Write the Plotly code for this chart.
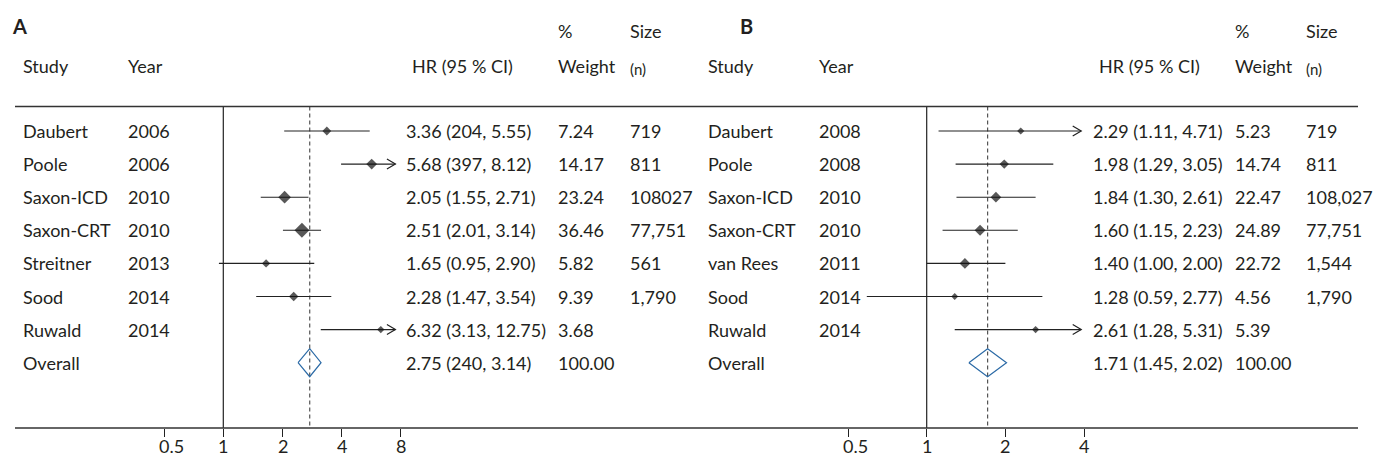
import math
import plotly.graph_objects as go

W, H = 1374, 458

# ---------------- Panel A ----------------
a_study = ["Daubert", "Poole", "Saxon-ICD", "Saxon-CRT", "Streitner", "Sood", "Ruwald"]
a_year = ["2006", "2006", "2010", "2010", "2013", "2014", "2014"]
a_hr = [3.36, 5.68, 2.05, 2.51, 1.65, 2.28, 6.32]
a_lo = [2.04, 3.97, 1.55, 2.01, 0.95, 1.47, 3.13]
a_hi = [5.55, 8.12, 2.71, 3.14, 2.90, 3.54, 12.75]
a_ci_text = ["3.36 (204, 5.55)", "5.68 (397, 8.12)", "2.05 (1.55, 2.71)",
             "2.51 (2.01, 3.14)", "1.65 (0.95, 2.90)", "2.28 (1.47, 3.54)",
             "6.32 (3.13, 12.75)"]
a_weight = [7.24, 14.17, 23.24, 36.46, 5.82, 9.39, 3.68]
a_n = ["719", "811", "108027", "77,751", "561", "1,790", ""]
a_overall = [2.75, 2.40, 3.14]
a_overall_text = "2.75 (240, 3.14)"
a_ticks = [0.5, 1, 2, 4, 8]

# ---------------- Panel B ----------------
b_study = ["Daubert", "Poole", "Saxon-ICD", "Saxon-CRT", "van Rees", "Sood", "Ruwald"]
b_year = ["2008", "2008", "2010", "2010", "2011", "2014", "2014"]
b_hr = [2.29, 1.98, 1.84, 1.60, 1.40, 1.28, 2.61]
b_lo = [1.11, 1.29, 1.30, 1.15, 1.00, 0.59, 1.28]
b_hi = [4.71, 3.05, 2.61, 2.23, 2.00, 2.77, 5.31]
b_ci_text = ["2.29 (1.11, 4.71)", "1.98 (1.29, 3.05)", "1.84 (1.30, 2.61)",
             "1.60 (1.15, 2.23)", "1.40 (1.00, 2.00)", "1.28 (0.59, 2.77)",
             "2.61 (1.28, 5.31)"]
b_weight = [5.23, 14.74, 22.47, 24.89, 22.72, 4.56, 5.39]
b_n = ["719", "811", "108,027", "77,751", "1,544", "1,790", ""]
b_overall = [1.71, 1.45, 2.02]
b_overall_text = "1.71 (1.45, 2.02)"
b_ticks = [0.5, 1, 2, 4]

FONT = "Lato"
FS = 18
TXT = "#231f20"
LINE = "#222222"
BLUE = "#2b6aa6"

# page geometry (pixels)
ROW0_PX, ROW_STEP = 131.0, 33.1
TOP_PX, AXIS_PX = 106.5, 428.0
LEFT_PX, RIGHT_PX = 15, 1358


def px(x):
    return x / W


def py(y):
    return 1 - y / H


def row_of(p):
    return (p - ROW0_PX) / ROW_STEP


panels = [
    dict(study=a_study, year=a_year, hr=a_hr, lo=a_lo, hi=a_hi, ci=a_ci_text,
         w=a_weight, n=a_n, ov=a_overall, ov_text=a_overall_text, ticks=a_ticks,
         xa="x", one_px=223.3, px_dec=196.7, dom=(15, 680), clip=7.5,
         msize=(3.0, 1.4), cols=dict(label=10, study=21, year=126, ci=404, w=556, n=628),
         letter="A"),
    dict(study=b_study, year=b_year, hr=b_hr, lo=b_lo, hi=b_hi, ci=b_ci_text,
         w=b_weight, n=b_n, ov=b_overall, ov_text=b_overall_text, ticks=b_ticks,
         xa="x2", one_px=926.7, px_dec=261.4, dom=(690, 1358), clip=3.9,
         msize=(3.0, 1.1), cols=dict(label=738, study=706, year=817, ci=1091, w=1233, n=1304),
         letter="B"),
]

fig = go.Figure()
annotations = []


def note(text, x, y, yref="paper", size=FS, bold=False):
    annotations.append(dict(
        text=f"<b>{text}</b>" if bold else text, x=px(x), y=y, xref="paper", yref=yref,
        xanchor="left", yanchor="middle", showarrow=False,
        font=dict(family=FONT, size=size, color=TXT)))


for p in panels:
    xa = p["xa"]
    ya = "y"
    rows = list(range(len(p["study"])))
    ov_row = len(p["study"])
    y_top, y_bot = row_of(TOP_PX), row_of(AXIS_PX)

    # reference line at HR = 1
    fig.add_trace(go.Scatter(x=[1, 1], y=[y_top, y_bot], mode="lines",
                             line=dict(color=LINE, width=1.2), xaxis=xa, yaxis=ya,
                             hoverinfo="skip", showlegend=False))
    # dashed line at the pooled estimate
    fig.add_trace(go.Scatter(x=[p["ov"][0]] * 2, y=[y_top, y_bot], mode="lines",
                             line=dict(color="#555555", width=1.2, dash="4px,3px"),
                             xaxis=xa, yaxis=ya, hoverinfo="skip", showlegend=False))

    # confidence intervals, clipped at the plotted range with an open arrowhead
    lx, ly, hx, hy = [], [], [], []
    dx = 10 ** (-8.5 / p["px_dec"])
    dy = 5.0 / ROW_STEP
    for r, lo, hi in zip(rows, p["lo"], p["hi"]):
        end = min(hi, p["clip"])
        lx += [lo, end, None]
        ly += [r, r, None]
        if hi > p["clip"]:
            hx += [end * dx, end, end * dx, None]
            hy += [r - dy, r, r + dy, None]
    fig.add_trace(go.Scatter(x=lx, y=ly, mode="lines", line=dict(color=LINE, width=1.1),
                             xaxis=xa, yaxis=ya, hoverinfo="skip", showlegend=False))
    fig.add_trace(go.Scatter(x=hx, y=hy, mode="lines", line=dict(color=LINE, width=1.2),
                             xaxis=xa, yaxis=ya, hoverinfo="skip", showlegend=False))

    # point estimates, sized by study weight
    a0, a1 = p["msize"]
    fig.add_trace(go.Scatter(x=p["hr"], y=rows, mode="markers",
                             marker=dict(symbol="diamond", color="#111111",
                                         size=[a0 + a1 * math.sqrt(w) for w in p["w"]],
                                         line=dict(width=0)),
                             xaxis=xa, yaxis=ya, hoverinfo="skip", showlegend=False))

    # pooled estimate diamond
    est, lo, hi = p["ov"]
    hh = 14 / ROW_STEP
    fig.add_trace(go.Scatter(x=[lo, est, hi, est, lo], y=[ov_row, ov_row - hh, ov_row, ov_row + hh, ov_row],
                             mode="lines", line=dict(color=BLUE, width=1.2),
                             xaxis=xa, yaxis=ya, hoverinfo="skip", showlegend=False))

    # axis: tick marks from plotly, tick labels placed as annotations on the same axis
    r0 = -(p["one_px"] - p["dom"][0]) / p["px_dec"]
    r1 = (p["dom"][1] - p["one_px"]) / p["px_dec"]
    ax = dict(type="log", domain=[px(p["dom"][0]), px(p["dom"][1])], range=[r0, r1],
              anchor="free", position=py(AXIS_PX), showgrid=False, zeroline=False,
              showline=False, ticks="outside", ticklen=8, tickwidth=1.2, tickcolor=LINE,
              automargin=False, tickvals=p["ticks"], showticklabels=False,
              fixedrange=True)
    if xa == "x":
        fig.update_layout(xaxis=ax)
    else:
        fig.update_layout(xaxis2=ax)
    for t in p["ticks"]:
        annotations.append(dict(
            text=str(t), x=math.log10(t), xref=xa, y=0, yref="paper",
            xanchor="center", yanchor="bottom", showarrow=False, borderpad=0,
            xshift=7 if t < 1 else 0,
            font=dict(family=FONT, size=FS, color=TXT)))

    # text columns
    c = p["cols"]
    note(p["letter"], c["label"], py(26), size=20, bold=True)
    note("Study", c["study"], py(66))
    note("Year", c["year"], py(66))
    note("HR (95 % CI)", c["ci"] + 6, py(66))
    note("%", c["w"], py(31))
    note("Weight", c["w"], py(66))
    note("Size", c["n"], py(31))
    note("(n)", c["n"], py(69), size=15)
    for r in rows:
        note(p["study"][r], c["study"], r, yref="y")
        note(p["year"][r], c["year"], r, yref="y")
        note(p["ci"][r], c["ci"], r, yref="y")
        note(f"{p['w'][r]:.2f}", c["w"], r, yref="y")
        if p["n"][r]:
            note(p["n"][r], c["n"], r, yref="y")
    note("Overall", c["study"], ov_row, yref="y")
    note(p["ov_text"], c["ci"], ov_row, yref="y")
    note("100.00", c["w"], ov_row, yref="y")

shapes = [
    dict(type="line", xref="paper", yref="paper", x0=px(LEFT_PX), x1=px(RIGHT_PX),
         y0=py(TOP_PX), y1=py(TOP_PX), line=dict(color="#333333", width=1.5)),
    dict(type="line", xref="paper", yref="paper", x0=px(LEFT_PX), x1=px(RIGHT_PX),
         y0=py(AXIS_PX), y1=py(AXIS_PX), line=dict(color="#333333", width=1.5)),
]

fig.update_layout(
    width=W, height=H, margin=dict(l=0, r=0, t=0, b=0, autoexpand=False),
    paper_bgcolor="white", plot_bgcolor="rgba(0,0,0,0)",
    yaxis=dict(domain=[0, 1], range=[row_of(H), row_of(0)], visible=False,
               fixedrange=True, automargin=False),
    annotations=annotations, shapes=shapes, showlegend=False, hovermode=False,
)

fig.write_html("out.html")
